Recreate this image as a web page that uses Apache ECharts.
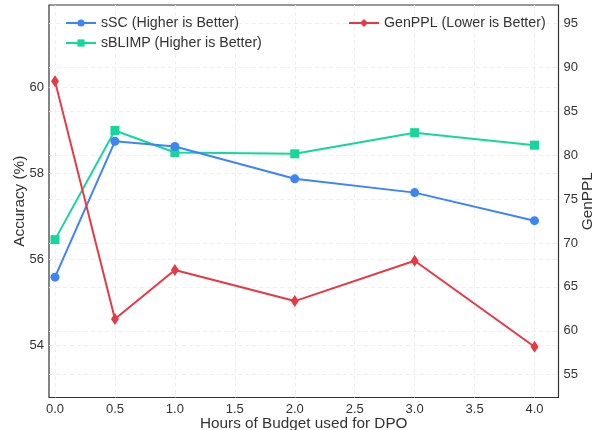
<!DOCTYPE html>
<html>
<head>
<meta charset="utf-8">
<script src="https://cdn.jsdelivr.net/npm/echarts@6/dist/echarts.min.js"></script>
<style>html,body{margin:0;padding:0;background:#fff}#c{width:603px;height:430px}</style>
</head>
<body>
<div id="c"></div>
<script>
var hours = [0, 0.5, 1, 2, 3, 4];
var sSC = [55.59, 58.74, 58.62, 57.87, 57.55, 56.90];
var sBLIMP = [56.46, 58.99, 58.48, 58.45, 58.94, 58.65];
var genPPL = [88.43, 61.33, 66.91, 63.38, 67.97, 58.18];
var xTicks = [0, 0.5, 1, 1.5, 2, 2.5, 3, 3.5, 4];
var accTicks = [54, 56, 58, 60];
var pplTicks = [55, 60, 65, 70, 75, 80, 85, 90, 95];

function pairs(xs, ys){ return xs.map(function(x,i){ return [x, ys[i]]; }); }

var FONT = 'Liberation Sans, Arial, sans-serif';
var gridLine = {show:true, lineStyle:{color:'#ebebeb', type:[4,3], width:0.8}};
var chart = echarts.init(document.getElementById('c'), null, {renderer:'canvas'});
chart.setOption({
  animation:false,
  backgroundColor:'#fff',
  grid:{left:49, right:44.5, top:5, bottom:32.5, outerBoundsMode:'none', containLabel:false, show:true, borderColor:'#333', borderWidth:1.2, backgroundColor:'transparent'},
  legend:[
    {data:['sSC (Higher is Better)','sBLIMP (Higher is Better)'], orient:'vertical', left:60, top:11, itemWidth:30, itemHeight:9, itemGap:6,
     textStyle:{fontFamily:FONT, fontSize:14.2, color:'#333'}},
    {data:['GenPPL (Lower is Better)'], orient:'vertical', left:343, top:11, itemWidth:30, itemHeight:10,
     textStyle:{fontFamily:FONT, fontSize:14.2, color:'#333'}}
  ],
  xAxis:{type:'value', min:-0.05, max:4.2,
    name:'Hours of Budget used for DPO', nameLocation:'middle', nameGap:19, nameMoveOverlap:false,
    nameTextStyle:{fontFamily:FONT, fontSize:15.3, color:'#333'},
    axisLine:{show:false}, axisTick:{show:false, customValues:xTicks},
    axisLabel:{customValues:xTicks, fontFamily:FONT, fontSize:13, color:'#333', margin:5, formatter:function(v){return v.toFixed(1);}},
    splitLine:gridLine},
  yAxis:[
    {type:'value', min:52.8, max:61.9, position:'left',
     name:'Accuracy (%)', nameLocation:'middle', nameGap:22, nameMoveOverlap:false,
     nameTextStyle:{fontFamily:FONT, fontSize:15.3, color:'#333'},
     axisLine:{show:false}, axisTick:{show:false, customValues:accTicks},
     axisLabel:{customValues:accTicks, fontFamily:FONT, fontSize:13, color:'#333', margin:5},
     splitLine:gridLine},
    {type:'value', min:52.4, max:97.1, position:'right',
     name:'GenPPL', nameLocation:'middle', nameGap:22, nameMoveOverlap:false,
     nameTextStyle:{fontFamily:FONT, fontSize:15.3, color:'#333'},
     axisLine:{show:false}, axisTick:{show:false, customValues:pplTicks},
     axisLabel:{customValues:pplTicks, fontFamily:FONT, fontSize:13, color:'#333', margin:5},
     splitLine:gridLine}
  ],
  series:[
    {name:'sSC (Higher is Better)', type:'line', yAxisIndex:0, data:pairs(hours,sSC),
     symbol:'circle', symbolSize:9, itemStyle:{color:'#3d85f6'}, lineStyle:{width:2, color:'#3d85f6'}, z:3},
    {name:'sBLIMP (Higher is Better)', type:'line', yAxisIndex:0, data:pairs(hours,sBLIMP),
     symbol:'rect', symbolSize:9, itemStyle:{color:'#15d69b'}, lineStyle:{width:2, color:'#15d69b'}, z:2},
    {name:'GenPPL (Lower is Better)', type:'line', yAxisIndex:1, data:pairs(hours,genPPL),
     symbol:'diamond', symbolSize:[8,12], itemStyle:{color:'#e63946'}, lineStyle:{width:2, color:'#e63946'}, z:4}
  ]
});
</script>
</body>
</html>
